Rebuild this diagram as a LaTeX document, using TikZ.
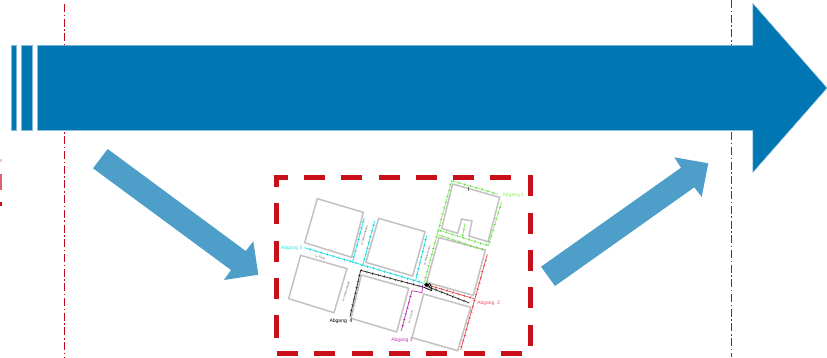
\documentclass[tikz,border=0pt]{standalone}
\usepackage{fontspec}
\setmainfont{Liberation Sans}
\usetikzlibrary{decorations.markings}
\definecolor{mainblue}{HTML}{0077B3}
\definecolor{edgeblue}{HTML}{7FBBD9}
\definecolor{softblue}{HTML}{4D9FCA}
\definecolor{framered}{HTML}{C8101A}
\definecolor{guidered}{HTML}{C00A1E}
\definecolor{blockgrey}{HTML}{C2C2C2}
\definecolor{lgreen}{HTML}{8CF06A}
\definecolor{lcyan}{HTML}{22E6EE}
\definecolor{lred}{HTML}{F0505A}
\definecolor{lmag}{HTML}{CC33BB}
\definecolor{lblack}{HTML}{333333}
\tikzset{
  guide/.style={guidered,line width=1pt,dash pattern=on 8pt off 2.6pt on 1.5pt off 2.6pt},
  bigarrow/.style={fill=mainblue,draw=edgeblue,line width=0.5pt},
  softarrow/.style={fill=softblue,draw=none},
  block/.style={draw=blockgrey,line width=1.5pt,fill=white,line join=miter},
  tickline/.style={draw=#1,line width=0.8pt,postaction={decorate},
    decoration={markings,mark=between positions 6pt and 1 step 6pt with {\draw[#1!75!black,line width=0.45pt] (0,-1.3pt)--(0,1.3pt);}}},
  plainline/.style={draw=#1,line width=0.8pt},
  tag/.style={font=\fontsize{5}{6}\selectfont,text=#1,inner sep=0pt},
  street/.style={font=\fontsize{2.6}{3}\selectfont,text=black!75,inner sep=0pt},
}
\begin{document}
\begin{tikzpicture}[x=1pt,y=-1pt]
\useasboundingbox (0,0) rectangle (827,357);
% guides
\draw[guide] (64.7,4) -- (64.7,357);
\draw[guide] (731.5,0) -- (731.5,357);
% cut-off marks at left edge
\fill[framered!25] (0,158.7) rectangle (1.5,162);
\fill[framered!65] (0,174) rectangle (2.4,190);
\fill[framered] (0,202.3) rectangle (2,206.3);
% main arrow
\draw[bigarrow] (11,45.4) rectangle (16.4,130.4);
\draw[bigarrow] (21.7,45.4) rectangle (32.7,130.4);
\draw[bigarrow] (37.7,45.4) -- (752.8,45.4) -- (752.8,3.4) -- (827,88) -- (752.8,172.4) -- (752.8,130.4) -- (37.7,130.4) -- cycle;
% soft arrows
\fill[softarrow] (107.7,149) -- (245.7,251) -- (253.3,241.3) -- (258.3,274.7) -- (224,280) -- (231,270) -- (93,168.3) -- cycle;
\fill[softarrow] (541,266.7) -- (681,167.7) -- (674.3,157.3) -- (708.3,163.3) -- (701.7,197) -- (694.3,187.3) -- (555,286) -- cycle;
% dashed frame
\draw[framered,line width=5pt,line join=miter,dash pattern=on 21pt off 16.3pt]
  (276,336.3) -- (276,177.7) -- (530,177.7) -- (530,353.7) -- (276,353.7) -- (276,336.3);
% site plan, in 3x coordinates
\begin{scope}[shift={(270,170)},x=0.3333pt,y=-0.3333pt]
  \draw[block] (142,86) -- (280,127) -- (245,262) -- (104,218) -- cycle;
  \draw[block] (326,145) -- (465,185) -- (428,318) -- (288,277) -- cycle;
  \draw[block] (92,256) -- (231,296) -- (192,428) -- (56,386) -- cycle;
  \draw[block] (274,315) -- (416,355) -- (380,486) -- (243,445) -- cycle;
  \draw[block] (461,372) -- (602,412) -- (563,542) -- (426,503) -- cycle;
  \draw[block] (507,203) -- (646,240) -- (610,376) -- (470,337) -- cycle;
  \draw[block] (548,42) -- (689,82) -- (654,215) -- (597,198) -- (606,153) -- (575,147) -- (563,190) -- (515,175) -- cycle;
  % green
  \draw[tickline=lgreen] (462,340) -- (545,32) -- (683,72);
  \draw[tickline=lgreen] (695,95) -- (655,227) -- (505,180);
  \draw[tickline=lgreen] (500,193) -- (642,240);
  \draw[tickline=lgreen] (585,160) -- (577,200);
  \draw[plainline=black!60,line width=0.45pt] (595,50) -- (595,62);
  % cyan
  \draw[tickline=lcyan] (103,233) -- (462,340);
  \draw[tickline=lcyan] (247,278) -- (283,143);
  \draw[tickline=lcyan] (278,287) -- (314,153);
  \draw[tickline=lcyan] (437,331) -- (470,197);
  % red
  \draw[tickline=lred] (480,347) -- (612,386);
  \draw[tickline=lred] (652,253) -- (572,540);
  % magenta
  \draw[plainline=lmag] (458,345) -- (456,368) -- (426,362);
  \draw[tickline=lmag] (426,362) -- (394,482);
  % black
  \draw[tickline=lblack] (240,440) -- (272,301) -- (462,352);
  \draw[tickline=lblack] (465,347) -- (598,399);
  \draw[plainline=black] (462,352) -- (485,362) -- (485,347);
  % hub
  \draw[black,line width=0.7pt] (469,344) circle[radius=5];
  \draw[black,line width=0.7pt] (478,345) circle[radius=4.5];
  \fill[black] (464,341) rectangle (473,347);
  % labels
  \node[tag=lgreen] (a1) at (730,75) {Abgang 1};
  \node[tag=lred] (a2) at (656,400) {Abgang\ \ 2};
  \node[tag=lmag] (a3) at (396,511) {Abgang 3};
  \node[tag=black] (a4) at (213,453) {Abgang\ \ 4};
  \node[tag=lcyan] (a5) at (65,234) {Abgang 5};
  \node[street,rotate=-16] (s1) at (150,262) {zu. Parkt};
  \node[street,rotate=73] (s2) at (228,365) {zu. Untere Straße};
  \node[street,rotate=74] (s3) at (283,197) {zu. Obere Straße};
  \node[street,rotate=75] (s4) at (471,258) {zu. Obere Straße};
  \node[street,rotate=74] (s5) at (422,440) {zu. Kurzstr.};
\end{scope}
\end{tikzpicture}
\end{document}
